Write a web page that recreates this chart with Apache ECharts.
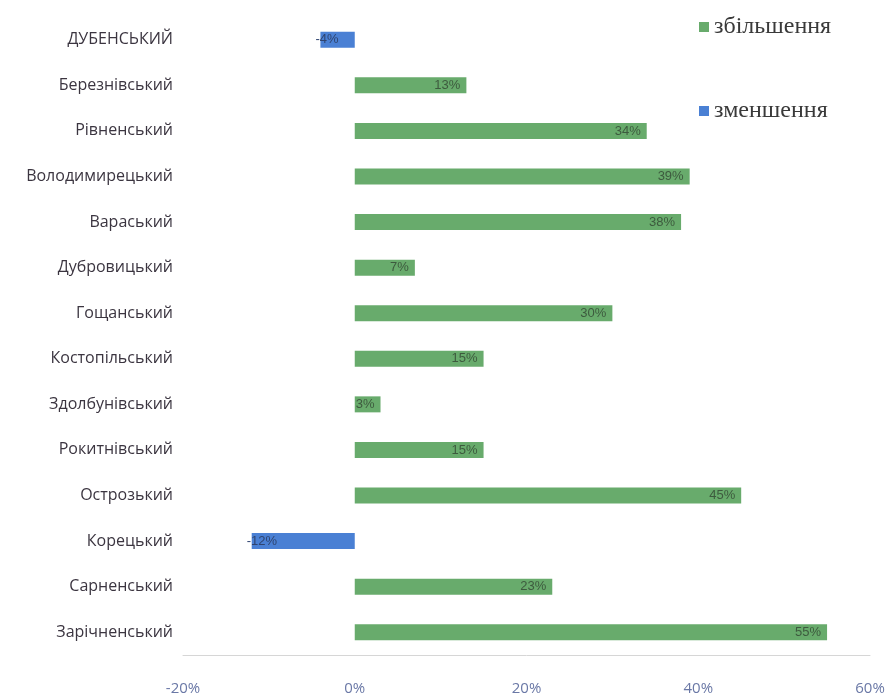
<!DOCTYPE html>
<html><head><meta charset="utf-8">
<script src="https://cdn.jsdelivr.net/npm/echarts@6/dist/echarts.min.js"></script>
<style>html,body{margin:0;padding:0;background:#fff}#c{width:891px;height:696px}</style>
</head><body><div id="c"></div>
<script>
const categories = ['ДУБЕНСЬКИЙ','Березнівський','Рівненський','Володимирецький','Вараський','Дубровицький','Гощанський','Костопільський','Здолбунівський','Рокитнівський','Острозький','Корецький','Сарненський','Зарічненський'];
const changes = [-4, 13, 34, 39, 38, 7, 30, 15, 3, 15, 45, -12, 23, 55];
const increase = changes.map(v => v >= 0 ? v : '-');
const decrease = changes.map(v => v < 0 ? v : '-');
const xTicks = [-20, 0, 20, 40, 60];

const chart = echarts.init(document.getElementById('c'));
chart.setOption({
  animation: false,
  backgroundColor: '#ffffff',
  legend: {
    orient: 'vertical', left: 694, top: 10, itemGap: 60,
    itemWidth: 10, itemHeight: 10, icon: 'rect',
    textStyle: { fontFamily: 'Liberation Serif', fontSize: 24, color: '#3a3a3a' },
    data: ['збільшення', 'зменшення']
  },
  grid: { left: 183, right: 21, top: 17, bottom: 41, containLabel: false, outerBoundsMode: 'none' },
  xAxis: {
    type: 'value', min: xTicks[0], max: xTicks[xTicks.length-1], interval: 20,
    axisLine: { show: true, lineStyle: { color: '#d6d6d6', width: 1 } },
    axisTick: { show: false },
    splitLine: { show: false },
    axisLabel: { formatter: v => v + '%', color: '#6a78a6', fontFamily: 'Open Sans', fontSize: 15, margin: 26 }
  },
  yAxis: {
    type: 'category', data: categories, inverse: true,
    axisLine: { show: false }, axisTick: { show: false },
    axisLabel: { color: '#3b3540', fontFamily: 'Open Sans', fontSize: 16, margin: 10 }
  },
  series: [
    { name: 'збільшення', type: 'bar', stack: 's', data: increase, barWidth: 16,
      itemStyle: { color: '#68ab6c' },
      label: { show: true, position: 'insideRight', formatter: p => p.value + '%', color: '#3d5a3e', fontSize: 13, fontFamily: 'Liberation Sans', distance: 6 } },
    { name: 'зменшення', type: 'bar', stack: 's', data: decrease, barWidth: 16,
      itemStyle: { color: '#4a80d4' },
      label: { show: true, position: 'insideLeft', formatter: p => p.value + '%', color: '#2f4470', fontSize: 13, fontFamily: 'Liberation Sans', offset: [-10, 0] } }
  ]
});
</script></body></html>
